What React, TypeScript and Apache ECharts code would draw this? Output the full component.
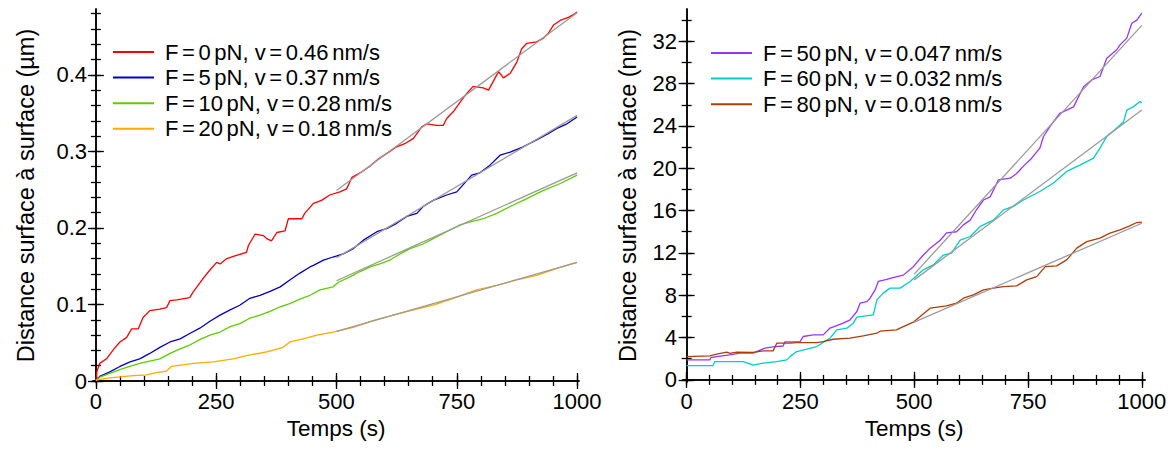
import React, { useEffect, useRef } from "react";
import * as echarts from "echarts";

// ---- tick values ----
const timeMajor = [0, 250, 500, 750, 1000];
const timeMinor = [0, 50, 100, 150, 200, 250, 300, 350, 400, 450, 500, 550, 600, 650, 700, 750, 800, 850, 900, 950, 1000];
const umMajor = [0, 0.1, 0.2, 0.3, 0.4];
const umMinor = [0, 0.02, 0.04, 0.06, 0.08, 0.1, 0.12, 0.14, 0.16, 0.18, 0.2, 0.22, 0.24, 0.26, 0.28, 0.3, 0.32, 0.34, 0.36, 0.38, 0.4, 0.42, 0.44, 0.46, 0.48];
const nmMajor = [0, 4, 8, 12, 16, 20, 24, 28, 32];
const nmMinor = [0, 2, 4, 6, 8, 10, 12, 14, 16, 18, 20, 22, 24, 26, 28, 30, 32, 34];

// ---- left panel series (µm) ----
const f0: [number, number][] = [
  [0, 0.001], [2, 0.012], [8, 0.023], [22, 0.029], [40, 0.044], [50, 0.051], [64, 0.057], [74, 0.068], [88, 0.068],
  [98, 0.083], [112, 0.092], [133, 0.094], [147, 0.096], [154, 0.105], [168, 0.106], [195, 0.109], [202, 0.116],
  [223, 0.134], [237, 0.145], [251, 0.155], [258, 0.153], [272, 0.16], [292, 0.164], [313, 0.168], [317, 0.177],
  [331, 0.192], [348, 0.19], [355, 0.186], [365, 0.183], [376, 0.194], [393, 0.196], [400, 0.212], [428, 0.212],
  [434, 0.219], [452, 0.232], [469, 0.236], [486, 0.243], [507, 0.247], [521, 0.251], [532, 0.266], [552, 0.273],
  [570, 0.281], [587, 0.29], [611, 0.3], [625, 0.306], [642, 0.31], [660, 0.317], [677, 0.332], [688, 0.336],
  [708, 0.334], [722, 0.334], [729, 0.343], [743, 0.352], [760, 0.367], [770, 0.375], [784, 0.385], [805, 0.383],
  [816, 0.38], [833, 0.4], [837, 0.404], [847, 0.396], [861, 0.402], [875, 0.417], [885, 0.434], [895, 0.441],
  [916, 0.443], [930, 0.448], [940, 0.454], [951, 0.465], [965, 0.471], [982, 0.475], [996, 0.48], [1000, 0.482],
];
const f5: [number, number][] = [
  [0, 0.001], [8, 0.006], [29, 0.012], [50, 0.019], [71, 0.025], [91, 0.029], [112, 0.036], [133, 0.044], [154, 0.051],
  [175, 0.055], [195, 0.062], [216, 0.069], [237, 0.078], [258, 0.086], [279, 0.093], [299, 0.099], [320, 0.108],
  [341, 0.112], [362, 0.117], [383, 0.123], [403, 0.132], [424, 0.141], [445, 0.149], [452, 0.151], [473, 0.158],
  [493, 0.162], [514, 0.166], [535, 0.173], [556, 0.184], [584, 0.195], [604, 0.199], [625, 0.206], [646, 0.215],
  [667, 0.219], [680, 0.228], [701, 0.236], [729, 0.243], [750, 0.247], [781, 0.269], [798, 0.272], [819, 0.282],
  [840, 0.295], [861, 0.299], [888, 0.306], [916, 0.315], [940, 0.323], [958, 0.33], [979, 0.336], [1000, 0.345],
];
const f10: [number, number][] = [
  [0, 0.001], [8, 0.005], [29, 0.01], [50, 0.015], [70, 0.019], [91, 0.023], [112, 0.026], [133, 0.029], [154, 0.036],
  [175, 0.042], [195, 0.047], [216, 0.054], [237, 0.06], [258, 0.064], [279, 0.071], [299, 0.075], [320, 0.082],
  [341, 0.086], [362, 0.091], [383, 0.097], [403, 0.101], [424, 0.107], [445, 0.112], [466, 0.119], [493, 0.123],
  [504, 0.129], [528, 0.136], [549, 0.143], [570, 0.149], [590, 0.153], [611, 0.158], [632, 0.166], [653, 0.173],
  [680, 0.179], [701, 0.186], [729, 0.195], [757, 0.204], [778, 0.208], [805, 0.212], [833, 0.219], [861, 0.228],
  [888, 0.236], [930, 0.249], [965, 0.258], [1000, 0.269],
];
const f20: [number, number][] = [
  [0, 0.001], [8, 0.002], [29, 0.004], [78, 0.007], [105, 0.008], [126, 0.011], [147, 0.013], [157, 0.019],
  [181, 0.021], [202, 0.023], [244, 0.025], [285, 0.029], [320, 0.034], [355, 0.038], [389, 0.044], [403, 0.051],
  [431, 0.055], [459, 0.06], [493, 0.064], [535, 0.07], [576, 0.079], [618, 0.086], [660, 0.093], [701, 0.099],
  [743, 0.108], [791, 0.119], [833, 0.125], [875, 0.132], [916, 0.138], [958, 0.147], [1000, 0.155],
];

// ---- right panel series (nm) ----
const f50: [number, number][] = [
  [0, 1.89], [51, 1.89], [53, 2.1], [66, 2.2], [95, 2.36], [117, 2.52], [146, 2.52], [172, 3.0], [194, 3.15],
  [212, 3.2], [216, 3.6], [249, 3.6], [256, 4.1], [278, 4.25], [300, 4.25], [315, 4.9], [344, 5.36], [359, 5.67],
  [374, 6.46], [381, 7.25], [396, 7.4], [403, 7.72], [414, 8.5], [421, 9.3], [440, 9.5], [447, 9.6], [476, 9.9],
  [498, 10.7], [520, 11.8], [535, 12.45], [557, 13.2], [571, 13.9], [593, 14.0], [608, 14.65], [623, 15.1],
  [637, 16.1], [652, 17.0], [667, 17.3], [685, 18.9], [711, 19.06], [725, 19.5], [740, 20.2], [758, 20.95],
  [776, 21.9], [784, 23.0], [798, 23.94], [820, 25.2], [835, 25.5], [850, 25.8], [872, 27.7], [890, 28.35],
  [908, 28.67], [923, 30.4], [945, 31.2], [952, 31.66], [967, 32.3], [978, 33.7], [989, 34.0], [1000, 34.66],
];
const f60: [number, number][] = [
  [0, 1.35], [58, 1.35], [62, 1.73], [124, 1.73], [139, 1.51], [146, 1.4], [168, 1.58], [198, 1.73], [220, 1.89],
  [227, 2.2], [242, 2.68], [264, 2.9], [286, 3.15], [297, 3.47], [315, 3.94], [330, 4.73], [352, 4.89], [366, 5.36],
  [374, 5.93], [410, 6.14], [418, 7.56], [432, 8.2], [447, 8.67], [469, 8.67], [491, 9.3], [520, 10.4], [542, 10.87],
  [564, 11.8], [582, 11.97], [601, 13.2], [623, 13.55], [645, 14.5], [674, 15.1], [696, 16.07], [718, 16.4],
  [740, 17.0], [776, 17.8], [806, 18.6], [835, 19.7], [864, 20.3], [894, 20.95], [908, 21.9], [923, 23.0],
  [945, 23.8], [960, 24.4], [967, 25.5], [981, 25.8], [996, 26.3], [1000, 26.2],
];
const f80: [number, number][] = [
  [0, 2.2], [51, 2.27], [66, 2.43], [88, 2.62], [95, 2.5], [110, 2.62], [146, 2.6], [168, 2.74], [190, 2.74],
  [198, 3.47], [227, 3.47], [242, 3.53], [286, 3.53], [300, 3.62], [322, 3.84], [359, 3.94], [388, 4.16],
  [418, 4.41], [425, 4.6], [461, 4.73], [476, 5.04], [498, 5.45], [513, 5.98], [535, 6.78], [571, 7.0], [593, 7.25],
  [608, 7.72], [630, 8.03], [652, 8.5], [674, 8.67], [696, 8.82], [725, 8.88], [747, 9.45], [769, 9.76],
  [788, 10.7], [813, 10.77], [835, 11.34], [857, 12.45], [879, 13.07], [908, 13.4], [930, 13.87], [952, 14.18],
  [971, 14.5], [989, 14.87], [1000, 14.9],
];

// ---- linear fits ----
const fitF0: [number, number][] = [[500, 0.249], [1000, 0.481]];
const fitF5: [number, number][] = [[500, 0.161], [1000, 0.347]];
const fitF10: [number, number][] = [[500, 0.131], [1000, 0.272]];
const fitF20: [number, number][] = [[500, 0.065], [1000, 0.155]];
const fitF50: [number, number][] = [[500, 10.0], [1000, 33.5]];
const fitF60: [number, number][] = [[500, 9.45], [1000, 25.5]];
const fitF80: [number, number][] = [[500, 5.45], [1000, 14.8]];

const leftNames = [
  "F = 0 pN, v = 0.46 nm/s",
  "F = 5 pN, v = 0.37 nm/s",
  "F = 10 pN, v = 0.28 nm/s",
  "F = 20 pN, v = 0.18 nm/s",
];
const rightNames = [
  "F = 50 pN, v = 0.047 nm/s",
  "F = 60 pN, v = 0.032 nm/s",
  "F = 80 pN, v = 0.018 nm/s",
];
const leftColors = ["#ff0000", "#0000c8", "#5fcc00", "#ffaa00"];
const rightColors = ["#9933ff", "#00cccc", "#b03c0a"];

const FONT = "'Liberation Sans', Arial, sans-serif";

function xAxes(gridIndex: number, min: number, max: number) {
  const base = { type: "value", gridIndex, min, max, splitLine: { show: false } };
  const line = { show: true, lineStyle: { color: "#000", width: 1.5 } };
  return [
    {
      ...base, position: "bottom", axisLine: line,
      axisTick: { show: true, inside: true, length: 8, customValues: timeMajor, lineStyle: { color: "#000", width: 1.3 } },
      axisLabel: {
        show: true, customValues: timeMajor, fontSize: 22, color: "#000", fontFamily: FONT, margin: 8,
        formatter: (v: number) => String(v),
      },
      name: "Temps (s)", nameLocation: "middle", nameGap: 35,
      nameTextStyle: { fontSize: 22.5, color: "#000", fontFamily: FONT },
    },
    {
      ...base, position: "bottom", axisLine: { show: false },
      axisTick: { show: true, inside: true, length: 5, customValues: timeMinor, lineStyle: { color: "#000", width: 1.3 } },
      axisLabel: { show: false },
    },
    {
      ...base, position: "top", axisLine: line,
      axisTick: { show: true, inside: true, length: 8, customValues: timeMajor, lineStyle: { color: "#000", width: 1.3 } },
      axisLabel: { show: false },
    },
    {
      ...base, position: "top", axisLine: { show: false },
      axisTick: { show: true, inside: true, length: 5, customValues: timeMinor, lineStyle: { color: "#000", width: 1.3 } },
      axisLabel: { show: false },
    },
  ];
}

function yAxes(gridIndex: number, min: number, max: number, major: number[], minor: number[], name: string, nameGap: number) {
  const base = { type: "value", gridIndex, min, max, splitLine: { show: false } };
  const line = { show: true, lineStyle: { color: "#000", width: 1.5 } };
  return [
    {
      ...base, position: "left", axisLine: line,
      axisTick: { show: true, inside: true, length: 8, customValues: major, lineStyle: { color: "#000", width: 1.3 } },
      axisLabel: {
        show: true, customValues: major, fontSize: 22, color: "#000", fontFamily: FONT, margin: 6,
        formatter: (v: number) => String(v),
      },
      name, nameLocation: "middle", nameGap,
      nameTextStyle: { fontSize: 23.5, color: "#000", fontFamily: FONT },
    },
    {
      ...base, position: "left", axisLine: { show: false },
      axisTick: { show: true, inside: true, length: 5, customValues: minor, lineStyle: { color: "#000", width: 1.3 } },
      axisLabel: { show: false },
    },
    {
      ...base, position: "right", axisLine: line,
      axisTick: { show: true, inside: true, length: 8, customValues: major, lineStyle: { color: "#000", width: 1.3 } },
      axisLabel: { show: false },
    },
    {
      ...base, position: "right", axisLine: { show: false },
      axisTick: { show: true, inside: true, length: 5, customValues: minor, lineStyle: { color: "#000", width: 1.3 } },
      axisLabel: { show: false },
    },
  ];
}

function dataSeries(name: string, color: string, data: [number, number][], xi: number, yi: number) {
  return {
    name, type: "line", data, xAxisIndex: xi, yAxisIndex: yi, color,
    symbol: "none", lineStyle: { color, width: 1.3 }, z: 2,
  };
}
function fitSeries(data: [number, number][], xi: number, yi: number) {
  return {
    name: "fit", type: "line", data, xAxisIndex: xi, yAxisIndex: yi,
    symbol: "none", lineStyle: { color: "#9a9a9a", width: 1.3 }, z: 3, silent: true,
  };
}

// narrow gaps around "=" and before units, as in the original typesetting
function legendLabel(name: string) {
  return name
    .replace(/ = /g, "{s| }={s| }")
    .replace(/(\d) (pN|nm)/g, "$1{s| }$2");
}

function legendCfg(names: string[], left: number, top: number) {
  return {
    data: names, orient: "vertical", left, top, padding: 0,
    icon: "rect", itemWidth: 41, itemHeight: 2, itemGap: 3.6,
    formatter: legendLabel,
    textStyle: {
      fontSize: 22, color: "#000", fontFamily: FONT, lineHeight: 22, padding: [0, 0, 0, 6],
      rich: { s: { fontSize: 13, fontFamily: FONT, lineHeight: 22 } },
    },
    selectedMode: false,
  };
}

export default function App() {
  const ref = useRef<HTMLDivElement>(null);
  useEffect(() => {
    if (!ref.current) return;
    const chart = echarts.init(ref.current, undefined, { renderer: "svg" });
    const option: any = {
      animation: false,
      backgroundColor: "#fff",
      textStyle: { fontFamily: FONT },
      grid: [
        { left: 93, top: 9, width: 486, height: 373 },
        { left: 683, top: 9, width: 462, height: 373 },
      ],
      xAxis: [...xAxes(0, -6, 1004), ...xAxes(1, -8, 1007)],
      yAxis: [
        ...yAxes(0, -0.0013, 0.486, umMajor, umMinor, "Distance surface à surface (µm)", 55),
        ...yAxes(1, -0.2, 35.05, nmMajor, nmMinor, "Distance surface à surface (nm)", 43),
      ],
      legend: [legendCfg(leftNames, 113, 41), legendCfg(rightNames, 711, 42)],
      series: [
        dataSeries(leftNames[0], leftColors[0], f0, 0, 0),
        dataSeries(leftNames[1], leftColors[1], f5, 0, 0),
        dataSeries(leftNames[2], leftColors[2], f10, 0, 0),
        dataSeries(leftNames[3], leftColors[3], f20, 0, 0),
        fitSeries(fitF0, 0, 0),
        fitSeries(fitF5, 0, 0),
        fitSeries(fitF10, 0, 0),
        fitSeries(fitF20, 0, 0),
        dataSeries(rightNames[0], rightColors[0], f50, 4, 4),
        dataSeries(rightNames[1], rightColors[1], f60, 4, 4),
        dataSeries(rightNames[2], rightColors[2], f80, 4, 4),
        fitSeries(fitF50, 4, 4),
        fitSeries(fitF60, 4, 4),
        fitSeries(fitF80, 4, 4),
      ],
    };
    chart.setOption(option);
    return () => chart.dispose();
  }, []);
  return (
    <div
      ref={ref}
      style={{ position: "absolute", left: 0, top: 0, width: 1173, height: 456, background: "#fff" }}
    />
  );
}
